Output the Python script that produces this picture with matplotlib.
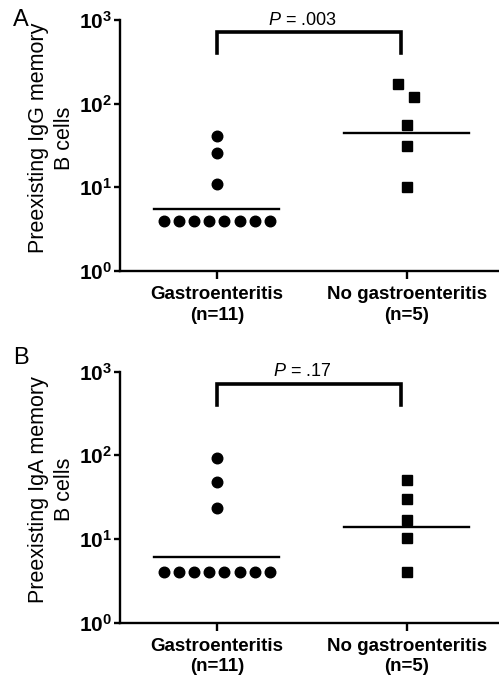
import matplotlib.pyplot as plt
import numpy as np

plt.rcParams['font.family'] = ['Liberation Sans', 'DejaVu Sans']
plt.rcParams['mathtext.fontset'] = 'custom'
plt.rcParams['mathtext.rm'] = 'Liberation Sans'
plt.rcParams['mathtext.it'] = 'Liberation Sans:italic'
plt.rcParams['mathtext.bf'] = 'Liberation Sans:bold'

# data
groups = ['Gastroenteritis\n(n=11)', 'No gastroenteritis\n(n=5)']

igg_gastro = [41, 26, 11.1, 4, 4, 4, 4, 4, 4, 4, 4]
igg_nogastro = [170, 121, 55, 31, 10.1]
igg_lines = [5.5, 45]
igg_p = '.003'

iga_gastro = [94, 47.6, 23.2, 4, 4, 4, 4, 4, 4, 4, 4]
iga_nogastro = [50.7, 30.1, 16.9, 10.4, 4]
iga_lines = [6.15, 13.8]
iga_p = '.17'

ylabels = ['Preexisting IgG memory\nB cells', 'Preexisting IgA memory\nB cells']
letters = ['A', 'B']

# horizontal spread of points inside each group (layout only)
row_step = 0.08
dodge_a = [-0.045, 0.04, 0, 0, 0]
dodge_b = [0, 0, 0, 0, 0]
letter_y = [1.0, 1.055]


def spread(vals):
    # the repeated lowest value goes in a row, the rest stay centred
    vals = np.asarray(vals)
    low = vals == vals.min()
    n = low.sum()
    off = np.zeros(len(vals))
    if n > 1:
        off[low] = (np.arange(n) - (n - 1) / 2) * row_step
    return off


fig = plt.figure(figsize=(4.99, 6.78), dpi=100)
axA = fig.add_axes([0.2405, 0.6003, 0.757, 0.3702])
axB = fig.add_axes([0.2405, 0.0816, 0.757, 0.3702])

panels = [
    (axA, igg_gastro, igg_nogastro, igg_lines, igg_p, dodge_a),
    (axB, iga_gastro, iga_nogastro, iga_lines, iga_p, dodge_b),
]

for i, (ax, g, ng, lines, p, dodge) in enumerate(panels):
    ax.set_yscale('log')
    ax.set_ylim(1, 1000)
    ax.set_xlim(-0.51, 1.48)

    ax.plot(0 + spread(g), g, 'o', color='black', markersize=7.6, clip_on=False)
    ax.plot(1 + np.array(dodge), ng, 's', color='black', markersize=7.4, clip_on=False)

    for k, m in enumerate(lines):
        ax.plot([k - 0.33, k + 0.33], [m, m], color='black', lw=1.7)

    # significance bracket
    ax.plot([0, 0, 0.97, 0.97], [400, 720, 720, 400], color='black', lw=2.6,
            solid_joinstyle='miter', clip_on=False)
    ax.text(0.45, 1000, '$P$ = ' + p, ha='center', va='center', fontsize=13)

    ax.spines['top'].set_visible(False)
    ax.spines['right'].set_visible(False)
    ax.spines['left'].set_linewidth(1.7)
    ax.spines['bottom'].set_linewidth(1.7)

    ax.set_yticks([1, 10, 100, 1000])
    ax.set_yticklabels([r'$\mathbf{10^{%d}}$' % e for e in range(4)], fontsize=15)
    ax.yaxis.set_minor_locator(plt.NullLocator())
    ax.set_xticks([0, 1])
    ax.set_xticklabels(groups, fontsize=13.5, fontweight='bold', linespacing=1.25)
    ax.tick_params(width=1.7, length=4, direction='out', pad=2)
    ax.tick_params(axis='x', length=6, pad=5)

    ax.set_ylabel(ylabels[i], fontsize=15.5, linespacing=1.35)
    ax.yaxis.set_label_coords(-0.118, 0.53)
    ax.text(-0.283, letter_y[i], letters[i], transform=ax.transAxes, fontsize=17,
            ha='left', va='center')

fig.savefig('out.png', dpi=100)
